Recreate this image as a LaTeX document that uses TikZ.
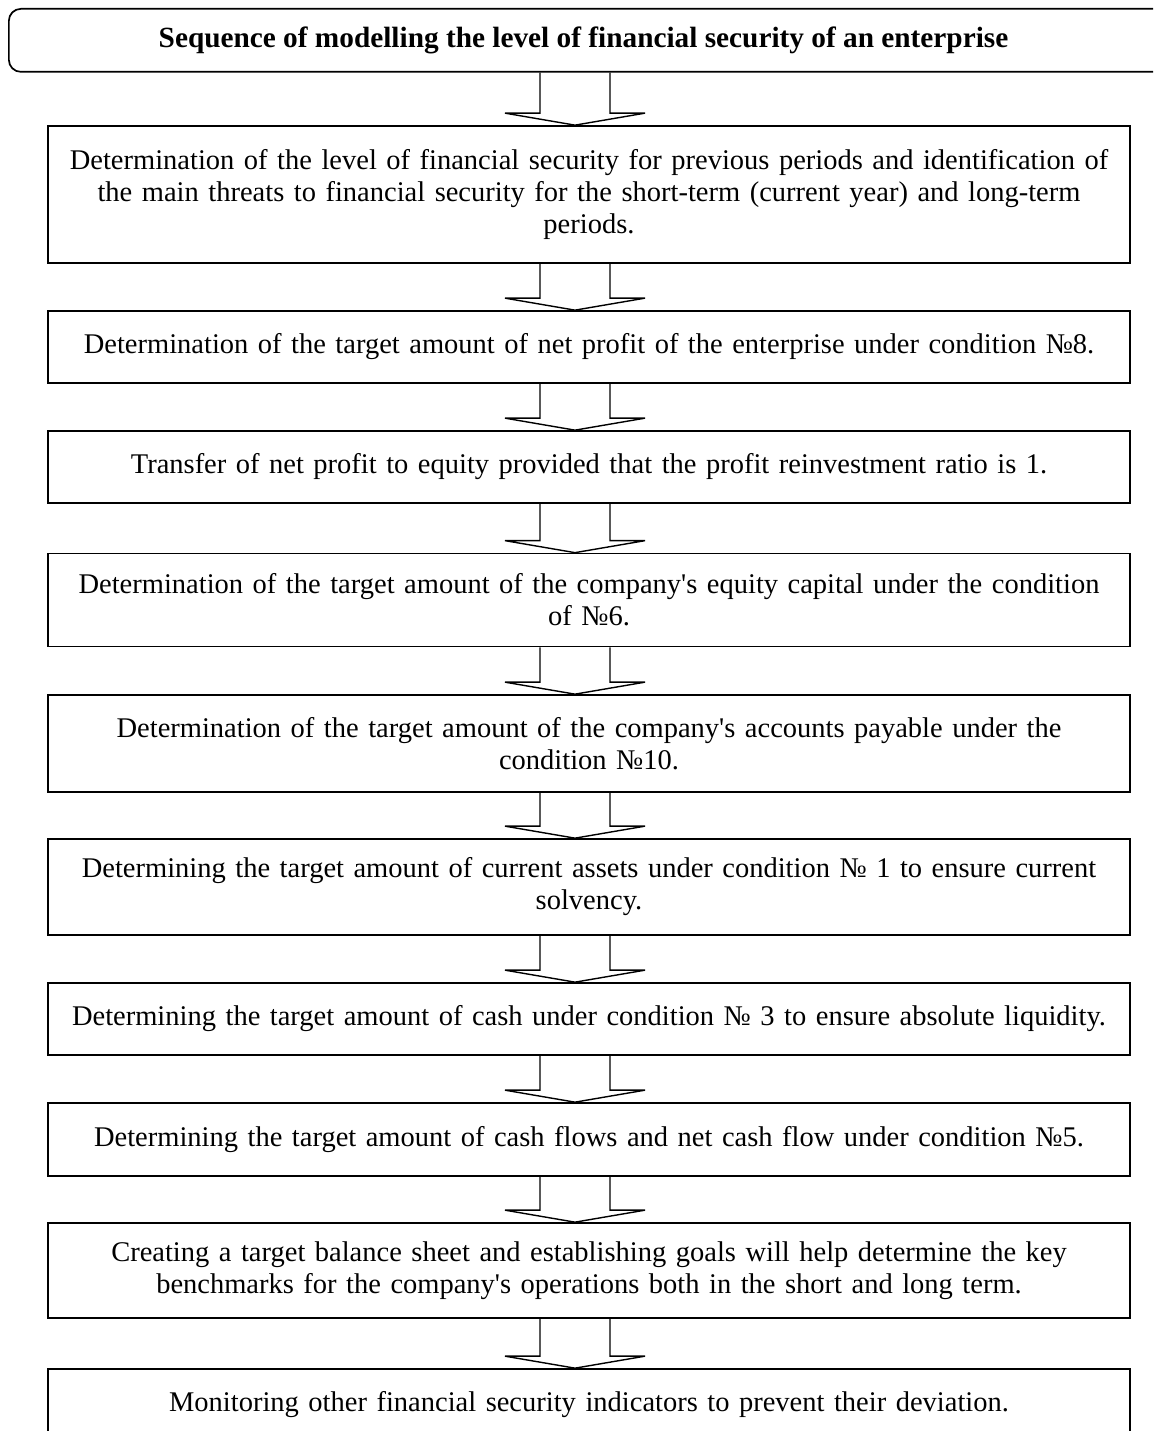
\documentclass[tikz,border=0pt]{standalone}
\usepackage{fontspec}
\setmainfont{Liberation Serif}
\usetikzlibrary{calc}
\tikzset{
  stepbox/.style={draw, line width=1.7pt, minimum width=1082pt, text width=1078pt,
    align=center, inner sep=0pt, font=\fontsize{28.5}{32}\selectfont},
  titlebox/.style={draw, line width=1.7pt, rounded corners=12pt, inner sep=0pt},
  titletext/.style={font=\bfseries\fontsize{29.3}{32}\selectfont, inner sep=0pt},
  blockarr/.style={line width=1.4pt, line join=miter},
}
\newcommand{\blockarrow}[2]{%
  \path (#1.south -| ax) coordinate (s-#1) (#2.north -| ax) coordinate (t-#2);
  \draw[blockarr] ([xshift=-35pt]s-#1) -- ([xshift=-35pt,yshift=12pt]t-#2)
    -- ([xshift=-70pt,yshift=12pt]t-#2) -- (t-#2)
    -- ([xshift=70pt,yshift=12pt]t-#2) -- ([xshift=35pt,yshift=12pt]t-#2)
    -- ([xshift=35pt]s-#1);}
\newcommand{\apos}{\textquotesingle}
\begin{document}
\begin{tikzpicture}[x=1pt,y=-1pt]
\useasboundingbox (0,0) rectangle (1153,1431);
\clip (0,0) rectangle (1153,1431);
\fill[white] (0,0) rectangle (1153,1431);
\coordinate (ax) at (575,0);
% title
\node[titlebox, minimum width=1170pt, minimum height=63pt, anchor=north west] (T) at (8,8) {};
\node[titletext] (Ttext) at (583.5,40) {Sequence of modelling the level of financial security of an enterprise};
% steps
\node[stepbox, minimum height=137pt] (A) at (589,194.5) {Determination of the level of financial security for previous periods and identification of\\ the main threats to financial security for the short-term (current year) and long-term\\ periods.};
\node[stepbox, minimum height=72pt] (B) at (589,347) {Determination of the target amount of net profit of the enterprise under condition №8.};
\node[stepbox, minimum height=72pt] (C) at (589,467) {Transfer of net profit to equity provided that the profit reinvestment ratio is 1.};
\node[stepbox, minimum height=93pt] (D) at (589,600) {Determination of the target amount of the company\apos s equity capital under the condition\\ of №6.};
\node[stepbox, minimum height=97pt] (E) at (589,743.5) {Determination of the target amount of the company\apos s accounts payable under the\\ condition №10.};
\node[stepbox, minimum height=96pt] (F) at (589,887) {Determining the target amount of current assets under condition № 1 to ensure current\\ solvency.};
\node[stepbox, minimum height=72pt] (G) at (589,1019) {Determining the target amount of cash under condition № 3 to ensure absolute liquidity.};
\node[stepbox, minimum height=73pt] (H) at (589,1139.5) {Determining the target amount of cash flows and net cash flow under condition №5.};
\node[stepbox, minimum height=95pt] (I) at (589,1270.5) {Creating a target balance sheet and establishing goals will help determine the key\\ benchmarks for the company\apos s operations both in the short and long term.};
\node[stepbox, minimum height=72pt] (J) at (589,1405) {Monitoring other financial security indicators to prevent their deviation.};
% arrows
\blockarrow{T}{A}
\blockarrow{A}{B}
\blockarrow{B}{C}
\blockarrow{C}{D}
\blockarrow{D}{E}
\blockarrow{E}{F}
\blockarrow{F}{G}
\blockarrow{G}{H}
\blockarrow{H}{I}
\blockarrow{I}{J}
\end{tikzpicture}
\end{document}
